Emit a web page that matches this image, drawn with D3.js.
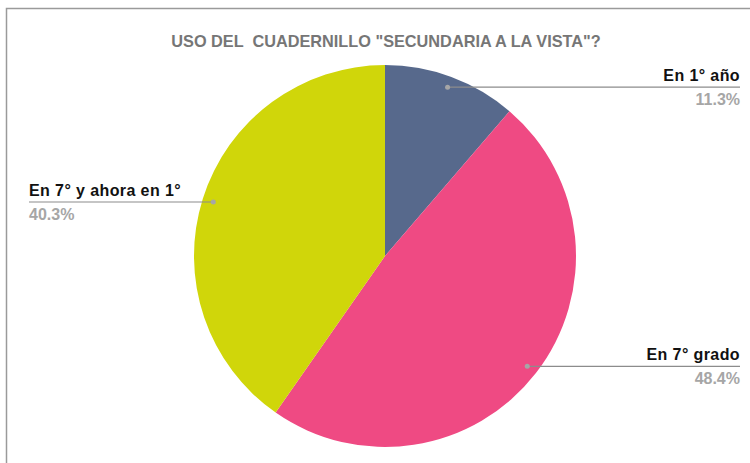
<!DOCTYPE html>
<html>
  <head>
    <meta charset="utf-8">
    <style>
      body { margin: 0; background: #fff; }
      text { font-family: "Liberation Sans", Arial, sans-serif; }
    </style>
  </head>
  <body>
    <div id="my_dataviz"></div>
  </body>
</html>

<script src="https://d3js.org/d3.v7.min.js"></script>

<script>
    // data
    var categories = ["En 1° año", "En 7° grado", "En 7° y ahora en 1°"];
    var values = [11.3, 48.4, 40.3];
    var colors = ["#57698c", "#ef4a83", "#d0d60a"];
    var titleText = 'USO DEL  CUADERNILLO "SECUNDARIA A LA VISTA"?';

    var width = 750, height = 463;
    var cx = 385, cy = 256, radius = 191;

    var svg = d3.select("#my_dataviz")
      .append("svg")
        .attr("width", width)
        .attr("height", height);

    // frame (only top and left visible)
    svg.append("path")
      .attr("d", "M6.5,463 L6.5,8.5 L750,8.5")
      .attr("fill", "none")
      .attr("stroke", "#9a9a9a")
      .attr("stroke-width", 1.5);

    // title
    svg.append("text")
      .attr("x", 386)
      .attr("y", 47)
      .attr("text-anchor", "middle")
      .style("white-space", "pre")
      .attr("font-size", "16.3px")
      .attr("font-weight", "bold")
      .attr("fill", "#767676")
      .text(titleText);

    var data = categories.map(function(c, i) { return {name: c, value: values[i], color: colors[i]}; });

    var pie = d3.pie().sort(null).value(function(d) { return d.value; });
    var arc = d3.arc().innerRadius(0).outerRadius(radius);
    var dotArc = d3.arc().innerRadius(180).outerRadius(180);

    var g = svg.append("g").attr("transform", "translate(" + cx + "," + cy + ")");
    var arcs = pie(data);

    g.selectAll("path.slice")
      .data(arcs)
      .enter()
      .append("path")
        .attr("class", "slice")
        .attr("d", arc)
        .attr("fill", function(d) { return d.data.color; });

    // label layout: which side and where the text ends
    var labelSide = ["right", "right", "left"];
    var labelEdge = [740, 740, 29];

    arcs.forEach(function(d, i) {
      var p = dotArc.centroid(d);
      var x = cx + p[0], y = cy + p[1];
      var right = labelSide[i] === "right";
      var edge = labelEdge[i];
      svg.append("line")
        .attr("x1", x).attr("y1", y)
        .attr("x2", edge).attr("y2", y)
        .attr("stroke", "#8c8c8c")
        .attr("stroke-width", 1.2);
      svg.append("circle")
        .attr("cx", x).attr("cy", y).attr("r", 2.5)
        .attr("fill", "#a6a6a6");
      svg.append("text")
        .attr("x", edge)
        .attr("y", y - 6)
        .attr("text-anchor", right ? "end" : "start")
        .attr("font-size", "16px")
        .attr("font-weight", "bold")
        .attr("fill", "#111")
        .style("letter-spacing", "0.4px")
        .text(d.data.name);
      svg.append("text")
        .attr("x", edge)
        .attr("y", y + 18)
        .attr("text-anchor", right ? "end" : "start")
        .attr("font-size", "16px")
        .attr("font-weight", "bold")
        .attr("fill", "#a6a6a6")
        .text(d3.format(".1f")(d.data.value) + "%");
    });
</script>
